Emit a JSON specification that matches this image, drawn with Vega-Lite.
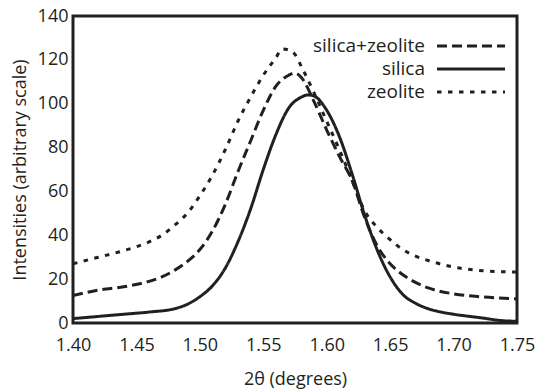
{
  "$schema": "https://vega.github.io/schema/vega-lite/v6.json",
  "width": 444,
  "height": 307,
  "autosize": "none",
  "padding": {"left": 73, "top": 16, "right": 22, "bottom": 66},
  "background": "white",
  "config": {
    "font": "Open Sans",
    "view": {"stroke": "#231f20", "strokeWidth": 3},
    "axis": {"domain": false, "ticks": false, "tickSize": 0, "grid": false, "labelFlush": false, "labelColor": "#231f20", "titleColor": "#231f20", "labelFontSize": 18, "titleFontSize": 18, "titleFontWeight": "normal", "labelFont": "Open Sans", "titleFont": "Open Sans"}
  },
  "datasets": {
    "xt": [{"x": 1.45}, {"x": 1.50}, {"x": 1.55}, {"x": 1.60}, {"x": 1.65}, {"x": 1.70}],
    "yt": [{"v": 20}, {"v": 40}, {"v": 60}, {"v": 80}, {"v": 100}, {"v": 120}],
    "curves": [
    {"x": 1.40, "v": 2.0, "s": "silica"},
    {"x": 1.42, "v": 3.0, "s": "silica"},
    {"x": 1.44, "v": 4.0, "s": "silica"},
    {"x": 1.46, "v": 5.0, "s": "silica"},
    {"x": 1.48, "v": 6.5, "s": "silica"},
    {"x": 1.49, "v": 8.5, "s": "silica"},
    {"x": 1.50, "v": 12, "s": "silica"},
    {"x": 1.51, "v": 17, "s": "silica"},
    {"x": 1.52, "v": 25, "s": "silica"},
    {"x": 1.53, "v": 37, "s": "silica"},
    {"x": 1.54, "v": 52, "s": "silica"},
    {"x": 1.55, "v": 70, "s": "silica"},
    {"x": 1.56, "v": 86, "s": "silica"},
    {"x": 1.57, "v": 98, "s": "silica"},
    {"x": 1.58, "v": 103, "s": "silica"},
    {"x": 1.585, "v": 104, "s": "silica"},
    {"x": 1.59, "v": 103.5, "s": "silica"},
    {"x": 1.60, "v": 97, "s": "silica"},
    {"x": 1.61, "v": 85, "s": "silica"},
    {"x": 1.62, "v": 68, "s": "silica"},
    {"x": 1.63, "v": 49, "s": "silica"},
    {"x": 1.64, "v": 33, "s": "silica"},
    {"x": 1.65, "v": 21, "s": "silica"},
    {"x": 1.66, "v": 13, "s": "silica"},
    {"x": 1.67, "v": 9, "s": "silica"},
    {"x": 1.68, "v": 6.5, "s": "silica"},
    {"x": 1.69, "v": 5.0, "s": "silica"},
    {"x": 1.70, "v": 4.0, "s": "silica"},
    {"x": 1.72, "v": 2.5, "s": "silica"},
    {"x": 1.74, "v": 1.0, "s": "silica"},
    {"x": 1.75, "v": 0.8, "s": "silica"},
    {"x": 1.40, "v": 12.5, "s": "silica+zeolite"},
    {"x": 1.42, "v": 15, "s": "silica+zeolite"},
    {"x": 1.44, "v": 16.5, "s": "silica+zeolite"},
    {"x": 1.46, "v": 19, "s": "silica+zeolite"},
    {"x": 1.47, "v": 21, "s": "silica+zeolite"},
    {"x": 1.48, "v": 24, "s": "silica+zeolite"},
    {"x": 1.49, "v": 28, "s": "silica+zeolite"},
    {"x": 1.50, "v": 33.5, "s": "silica+zeolite"},
    {"x": 1.51, "v": 42, "s": "silica+zeolite"},
    {"x": 1.52, "v": 54, "s": "silica+zeolite"},
    {"x": 1.53, "v": 69, "s": "silica+zeolite"},
    {"x": 1.54, "v": 83, "s": "silica+zeolite"},
    {"x": 1.55, "v": 97, "s": "silica+zeolite"},
    {"x": 1.56, "v": 108, "s": "silica+zeolite"},
    {"x": 1.57, "v": 113, "s": "silica+zeolite"},
    {"x": 1.575, "v": 114, "s": "silica+zeolite"},
    {"x": 1.58, "v": 112, "s": "silica+zeolite"},
    {"x": 1.59, "v": 101, "s": "silica+zeolite"},
    {"x": 1.60, "v": 88, "s": "silica+zeolite"},
    {"x": 1.61, "v": 76, "s": "silica+zeolite"},
    {"x": 1.62, "v": 65, "s": "silica+zeolite"},
    {"x": 1.63, "v": 48, "s": "silica+zeolite"},
    {"x": 1.64, "v": 35, "s": "silica+zeolite"},
    {"x": 1.65, "v": 27, "s": "silica+zeolite"},
    {"x": 1.66, "v": 22, "s": "silica+zeolite"},
    {"x": 1.67, "v": 18.5, "s": "silica+zeolite"},
    {"x": 1.68, "v": 16, "s": "silica+zeolite"},
    {"x": 1.70, "v": 13.3, "s": "silica+zeolite"},
    {"x": 1.72, "v": 12, "s": "silica+zeolite"},
    {"x": 1.75, "v": 11, "s": "silica+zeolite"},
    {"x": 1.40, "v": 27, "s": "zeolite"},
    {"x": 1.42, "v": 30, "s": "zeolite"},
    {"x": 1.44, "v": 33, "s": "zeolite"},
    {"x": 1.46, "v": 37, "s": "zeolite"},
    {"x": 1.47, "v": 40, "s": "zeolite"},
    {"x": 1.48, "v": 44.5, "s": "zeolite"},
    {"x": 1.49, "v": 50, "s": "zeolite"},
    {"x": 1.50, "v": 58, "s": "zeolite"},
    {"x": 1.51, "v": 67.5, "s": "zeolite"},
    {"x": 1.52, "v": 79, "s": "zeolite"},
    {"x": 1.53, "v": 92, "s": "zeolite"},
    {"x": 1.54, "v": 103, "s": "zeolite"},
    {"x": 1.55, "v": 113, "s": "zeolite"},
    {"x": 1.56, "v": 121, "s": "zeolite"},
    {"x": 1.565, "v": 125, "s": "zeolite"},
    {"x": 1.57, "v": 124.5, "s": "zeolite"},
    {"x": 1.575, "v": 122.5, "s": "zeolite"},
    {"x": 1.58, "v": 117, "s": "zeolite"},
    {"x": 1.59, "v": 105, "s": "zeolite"},
    {"x": 1.60, "v": 92, "s": "zeolite"},
    {"x": 1.61, "v": 79, "s": "zeolite"},
    {"x": 1.62, "v": 65, "s": "zeolite"},
    {"x": 1.63, "v": 51, "s": "zeolite"},
    {"x": 1.64, "v": 43.5, "s": "zeolite"},
    {"x": 1.65, "v": 38, "s": "zeolite"},
    {"x": 1.66, "v": 33.5, "s": "zeolite"},
    {"x": 1.67, "v": 30.5, "s": "zeolite"},
    {"x": 1.68, "v": 28.5, "s": "zeolite"},
    {"x": 1.70, "v": 25.5, "s": "zeolite"},
    {"x": 1.72, "v": 24, "s": "zeolite"},
    {"x": 1.75, "v": 23.2, "s": "zeolite"}
    ]
  },
  "encoding": {
    "x": {"field": "x", "type": "quantitative", "scale": {"domain": [1.4, 1.75], "nice": false, "zero": false},
          "axis": {"orient": "bottom", "values": [1.4, 1.45, 1.5, 1.55, 1.6, 1.65, 1.7, 1.75], "format": ".2f", "labelPadding": 13, "title": "2θ (degrees)", "titlePadding": 16}},
    "y": {"field": "v", "type": "quantitative", "scale": {"domain": [0, 140], "nice": false},
          "axis": {"orient": "left", "values": [0, 20, 40, 60, 80, 100, 120, 140], "labelPadding": 5, "title": "Intensities (arbitrary scale)", "titlePadding": 8}}
  },
  "layer": [
    {
      "data": {"name": "curves"},
      "mark": {"type": "line", "color": "#231f20", "strokeWidth": 3, "interpolate": "monotone", "clip": true},
      "encoding": {
        "strokeDash": {"field": "s", "type": "nominal",
          "scale": {"domain": ["silica+zeolite", "silica", "zeolite"], "range": [[10, 5], [1, 0], [4.5, 6.5]]},
          "legend": {"orient": "none", "legendX": 385, "legendY": 17, "title": null, "symbolType": "M-3,0H3", "symbolSize": 514, "symbolStrokeWidth": 3, "symbolStrokeColor": "#231f20", "symbolFillColor": "transparent", "labelAlign": "right", "labelOffset": -59, "labelFontSize": 19, "labelColor": "#231f20", "labelFont": "Open Sans", "rowPadding": 0, "padding": 0}}
      }
    },
    {
      "data": {"name": "xt"},
      "mark": {"type": "rule", "color": "#231f20", "strokeWidth": 3, "opacity": 1},
      "encoding": {"y": {"datum": 0}, "y2": {"datum": 6.4}}
    },
    {
      "data": {"name": "xt"},
      "mark": {"type": "rule", "color": "#231f20", "strokeWidth": 3, "opacity": 1},
      "encoding": {"y": {"datum": 140}, "y2": {"datum": 133.6}}
    },
    {
      "data": {"name": "yt"},
      "mark": {"type": "rule", "color": "#231f20", "strokeWidth": 3, "opacity": 1},
      "encoding": {"x": {"datum": 1.4}, "x2": {"datum": 1.411}}
    },
    {
      "data": {"name": "yt"},
      "mark": {"type": "rule", "color": "#231f20", "strokeWidth": 3, "opacity": 1},
      "encoding": {"x": {"datum": 1.75}, "x2": {"datum": 1.739}}
    }
  ]
}
